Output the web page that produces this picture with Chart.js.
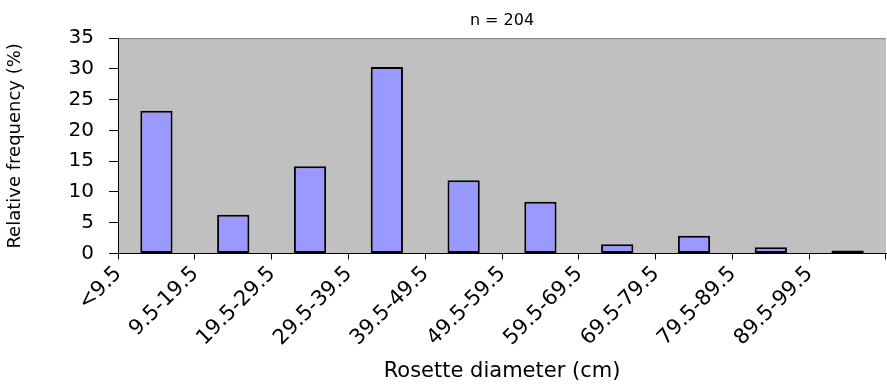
<!DOCTYPE html>
<html>
<head>
<meta charset="utf-8">
<script src="https://cdn.jsdelivr.net/npm/chart.js@4"></script>
<style>
  html, body { margin: 0; padding: 0; background: #fff; }
  #wrap { width: 887px; height: 388px; }
</style>
</head>
<body>
<div id="wrap"><canvas id="histChart" width="887" height="388"></canvas></div>
<script>
// Rosette diameter classes and relative frequency (%)
const diameterClasses = ['<9.5', '9.5-19.5', '19.5-29.5', '29.5-39.5', '39.5-49.5',
    '49.5-59.5', '59.5-69.5', '69.5-79.5', '79.5-89.5', '89.5-99.5'];
const relFrequency = [23.2, 6.3, 14.2, 30.3, 11.9, 8.4, 1.5, 2.9, 1.0, 0.5];
const yTickValues = [0, 5, 10, 15, 20, 25, 30, 35];
const chartTitle = 'n = 204';
const xTitle = 'Rosette diameter (cm)';
const yTitle = 'Relative frequency (%)';

const FONT = 'DejaVu Sans';

// grey plot area with a darker top edge, like the old spreadsheet chart
const plotBackground = {
    id: 'plotBackground',
    beforeDraw(chart) {
        const { ctx, chartArea: a } = chart;
        ctx.save();
        ctx.fillStyle = '#c0c0c0';
        ctx.fillRect(a.left, a.top, a.right - a.left, a.bottom - a.top);
        ctx.strokeStyle = '#808080';
        ctx.lineWidth = 1;
        ctx.beginPath();
        ctx.moveTo(a.left, a.top + 0.5);
        ctx.lineTo(a.right, a.top + 0.5);
        ctx.stroke();
        ctx.restore();
    }
};

function initializeHistogram() {
    const ctx = document.getElementById('histChart').getContext('2d');
    new Chart(ctx, {
        type: 'bar',
        data: {
            labels: diameterClasses,
            datasets: [{
                data: relFrequency,
                backgroundColor: '#9999ff',
                borderColor: '#000000',
                borderWidth: 2,
                borderSkipped: false,
                barPercentage: 0.42,
                categoryPercentage: 1.0
            }]
        },
        options: {
            responsive: false,
            animation: false,
            layout: { padding: { left: 0, right: 1, top: 0, bottom: 2 } },
            plugins: {
                legend: { display: false },
                tooltip: { enabled: false },
                title: {
                    display: true,
                    text: chartTitle,
                    fullSize: false,
                    color: '#000',
                    font: { family: FONT, size: 16, weight: 'normal' },
                    padding: { top: 11, bottom: 8 }
                }
            },
            scales: {
                x: {
                    offset: true,
                    grid: {
                        offset: true,
                        drawOnChartArea: false,
                        drawTicks: true,
                        tickLength: 6,
                        color: '#000'
                    },
                    border: { display: true, color: '#000', width: 1 },
                    ticks: {
                        color: '#000',
                        font: { family: FONT, size: 21 },
                        minRotation: 45,
                        maxRotation: 45,
                        autoSkip: false,
                        padding: 2,
                        labelOffset: -38
                    },
                    title: {
                        display: true,
                        text: xTitle,
                        color: '#000',
                        font: { family: FONT, size: 21 },
                        padding: { top: 6, bottom: 2 }
                    }
                },
                y: {
                    min: 0,
                    max: 35,
                    afterBuildTicks(axis) {
                        axis.ticks = yTickValues.map(v => ({ value: v }));
                    },
                    grid: {
                        drawOnChartArea: false,
                        drawTicks: true,
                        tickLength: 9,
                        color: '#000'
                    },
                    border: { display: true, color: '#000', width: 1 },
                    ticks: {
                        color: '#000',
                        font: { family: FONT, size: 20 },
                        padding: 15
                    },
                    title: {
                        display: true,
                        text: yTitle,
                        color: '#000',
                        font: { family: FONT, size: 18 },
                        padding: { top: 5, bottom: 27 }
                    }
                }
            }
        },
        plugins: [plotBackground]
    });
}

if (document.readyState === 'loading') {
    document.addEventListener('DOMContentLoaded', initializeHistogram);
} else {
    initializeHistogram();
}
</script>
</body>
</html>
